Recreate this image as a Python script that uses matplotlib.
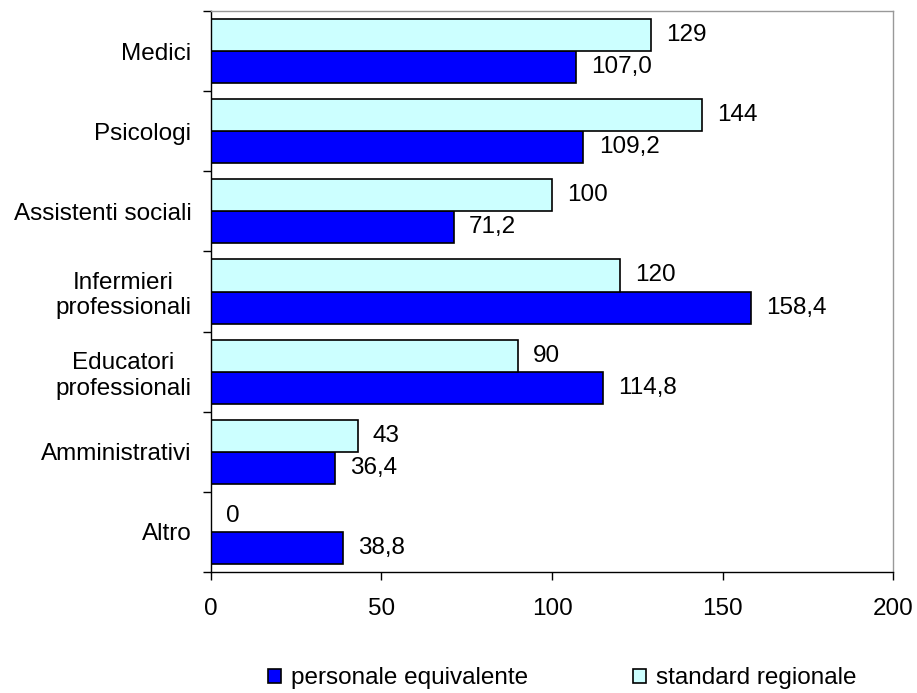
import matplotlib.pyplot as plt
import numpy as np

plt.rcParams['font.family'] = ['Liberation Sans', 'DejaVu Sans']

categorie = ['Medici', 'Psicologi', 'Assistenti sociali', 'Infermieri\nprofessionali',
             'Educatori\nprofessionali', 'Amministrativi', 'Altro']
personale_equivalente = [107.0, 109.2, 71.2, 158.4, 114.8, 36.4, 38.8]
standard_regionale = [129, 144, 100, 120, 90, 43, 0]

FS = 17.5

fig = plt.figure(figsize=(9.17, 6.93), dpi=100)
ax = fig.add_axes([0.230, 0.1746, 0.744, 0.8095])

y = np.arange(len(categorie))
h = 0.4
b_pers = ax.barh(y + h / 2, personale_equivalente, height=h, color='#0000FF',
                 edgecolor='black', linewidth=1.2, label='personale equivalente')
b_std = ax.barh(y - h / 2, standard_regionale, height=h, color='#CCFFFF',
                edgecolor='black', linewidth=1.2, label='standard regionale')

# etichette valori
for yy, v in zip(y, personale_equivalente):
    ax.annotate(f'{v:.1f}'.replace('.', ','), (v, yy + h / 2), xytext=(11, 0),
                textcoords='offset points', va='center', ha='left', fontsize=FS)
for yy, v in zip(y, standard_regionale):
    ax.annotate(f'{v}', (v, yy - h / 2), xytext=(11, 0),
                textcoords='offset points', va='center', ha='left', fontsize=FS)

ax.set_xlim(0, 200)
ax.set_ylim(len(categorie) - 0.5, -0.5)
ax.set_xticks([0, 50, 100, 150, 200])
ax.tick_params(axis='x', labelsize=FS, length=6, width=1, pad=13)

# tick y ai confini delle categorie, etichette al centro
ax.set_yticks(np.arange(-0.5, len(categorie)), minor=False)
ax.set_yticklabels([])
ax.set_yticks(y, minor=True)
ax.set_yticklabels(categorie, minor=True, fontsize=FS, ha='right',
                   multialignment='center', linespacing=1.2)
ax.tick_params(axis='y', which='major', length=6, width=1)
ax.tick_params(axis='y', which='minor', length=0, pad=14)

for s in ['left', 'bottom']:
    ax.spines[s].set_color('black')
    ax.spines[s].set_linewidth(1)
for s in ['top', 'right']:
    ax.spines[s].set_color('#999999')
    ax.spines[s].set_linewidth(1)

fig.legend(handles=[b_pers, b_std], loc='center', bbox_to_anchor=(0.613, 0.021),
           ncol=2, frameon=False, fontsize=FS, handlelength=0.55, handleheight=0.55,
           handletextpad=0.4, columnspacing=4.3)

fig.savefig('out.png', dpi=100)
